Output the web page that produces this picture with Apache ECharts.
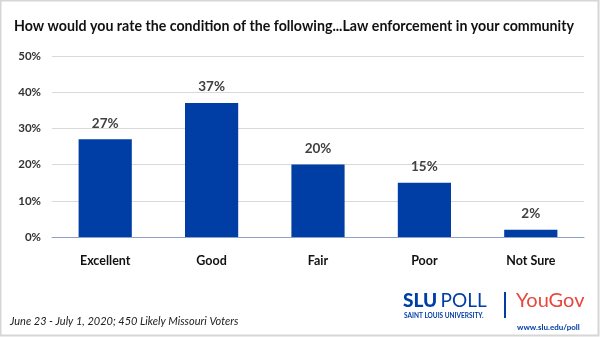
<!DOCTYPE html>
<html>
<head>
<meta charset="utf-8">
<script src="https://cdn.jsdelivr.net/npm/echarts@6/dist/echarts.min.js"></script>
<style>
  html, body { margin: 0; padding: 0; background: #fff; }
  #chart { width: 600px; height: 337px; }
</style>
</head>
<body>
<div id="chart"></div>
<script>
// Survey responses and shares (percent)
const categories = ['Excellent', 'Good', 'Fair', 'Poor', 'Not Sure'];
const shares = [27, 37, 20, 15, 2];
const yTicks = [0, 10, 20, 30, 40, 50];

const FONT = 'Lato, "Open Sans", sans-serif';
const BLUE = '#003DA5';

const chart = echarts.init(document.getElementById('chart'));
chart.setOption({
  animation: false,
  backgroundColor: '#fff',
  title: {
    text: 'How would you rate the condition of the following...Law enforcement in your community',
    left: 9,
    top: 14,
    textStyle: { fontFamily: FONT, fontSize: 14.2, fontWeight: 'bold', color: '#111' }
  },
  grid: { left: 52, right: 16, top: 56, bottom: 100, containLabel: false },
  xAxis: {
    type: 'category',
    data: categories,
    axisTick: { show: false },
    axisLine: { lineStyle: { color: '#8ea2c9', width: 1 } },
    axisLabel: {
      margin: 17,
      fontFamily: FONT, fontSize: 12.5, fontWeight: 'bold', color: '#111'
    }
  },
  yAxis: {
    type: 'value',
    min: yTicks[0],
    max: yTicks[yTicks.length - 1],
    interval: 10,
    axisLine: { show: false },
    axisTick: { show: false },
    splitLine: { lineStyle: { color: '#d9d9d9', width: 1 } },
    axisLabel: {
      margin: 11,
      formatter: v => v + '%',
      fontFamily: FONT, fontSize: 11.5, fontWeight: 'bold', color: '#333'
    }
  },
  series: [{
    type: 'bar',
    data: shares,
    barWidth: '50%',
    itemStyle: { color: BLUE },
    label: {
      show: true,
      position: 'top',
      distance: 9,
      formatter: p => p.value + '%',
      fontFamily: FONT, fontSize: 13.5, fontWeight: 'bold', color: '#404040'
    }
  }],
  graphic: [
    // frame around the figure
    { type: 'rect', shape: { x: 0.5, y: 0.5, width: 598, height: 335 },
      style: { fill: 'none', stroke: '#d6d6d6', lineWidth: 2 }, silent: true },
    // source note
    { type: 'text', left: 10, top: 316,
      style: { text: 'June 23 - July 1, 2020; 450 Likely Missouri Voters',
        fontFamily: FONT, fontSize: 11, fontStyle: 'italic', fill: '#222' } },
    // SLU POLL wordmark
    { type: 'text', left: 403, top: 291,
      style: { text: '{a|SLU} {b|POLL}',
        rich: {
          a: { fontFamily: FONT, fontSize: 19, fontWeight: 900, fill: BLUE },
          b: { fontFamily: FONT, fontSize: 19, fontWeight: 'normal', fill: BLUE }
        } } },
    { type: 'text', left: 404, top: 312,
      style: { text: 'SAINT LOUIS UNIVERSITY.', fontFamily: FONT, fontSize: 6.5,
        fontWeight: 'bold', fill: BLUE } },
    { type: 'rect', shape: { x: 504, y: 292, width: 2, height: 26 }, style: { fill: BLUE } },
    // YouGov wordmark
    { type: 'text', left: 516, top: 291,
      style: { text: 'YouGov', fontFamily: FONT, fontSize: 20, fontWeight: 'normal', fill: '#e8463c' } },
    { type: 'text', left: 517, top: 323,
      style: { text: 'www.slu.edu/poll', fontFamily: FONT, fontSize: 8, fontWeight: 'bold', fill: BLUE } }
  ]
});
</script>
</body>
</html>
